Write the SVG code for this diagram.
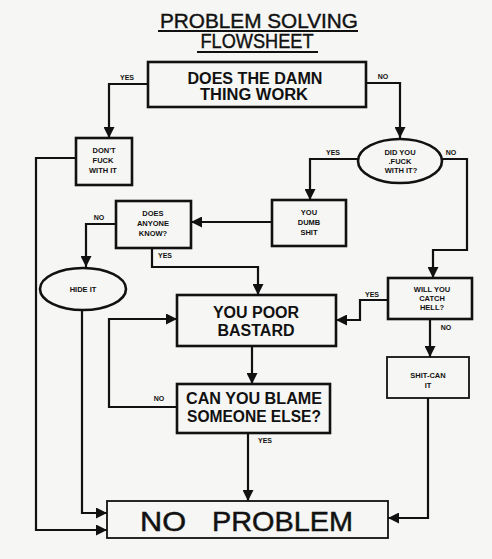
<svg xmlns="http://www.w3.org/2000/svg" width="492" height="559" viewBox="0 0 492 559">
<defs>
<style>
.bx{fill:none;stroke:#111;stroke-width:2.6}
.thin{fill:none;stroke:#111;stroke-width:1.8}
.ln{fill:none;stroke:#111;stroke-width:2.2}
.big{font-family:"Liberation Sans",Arial,sans-serif;font-size:16px;font-weight:bold;fill:#111;text-anchor:middle}
.sm{font-family:"Liberation Sans",Arial,sans-serif;font-size:7.5px;font-weight:bold;fill:#111;text-anchor:middle}
.lb{font-family:"Liberation Sans",Arial,sans-serif;font-size:7px;font-weight:bold;fill:#111;text-anchor:middle}
.tt{font-family:"Liberation Sans",Arial,sans-serif;font-size:20px;fill:#111;stroke:#111;stroke-width:0.4;text-anchor:middle}
.np{font-family:"Liberation Sans",Arial,sans-serif;font-size:28px;fill:#111;stroke:#111;stroke-width:0.5;text-anchor:start}
</style>
<marker id="ah" viewBox="0 0 10 10" refX="10" refY="5" markerWidth="5" markerHeight="5" orient="auto" markerUnits="strokeWidth">
<path d="M0,0 L10,5 L0,10 z" fill="#111"/>
</marker>
</defs>
<rect width="492" height="559" fill="#f6f6f4"/>
<g id="title">
<text class="tt" x="259" y="28" textLength="198" lengthAdjust="spacingAndGlyphs">PROBLEM SOLVING</text>
<line x1="158" y1="31" x2="358" y2="31" stroke="#111" stroke-width="2"/>
<text class="tt" x="257" y="48" textLength="113" lengthAdjust="spacingAndGlyphs">FLOWSHEET</text>
<line x1="197" y1="52" x2="318" y2="52" stroke="#111" stroke-width="2"/>
</g>
<g id="connectors">
<polyline class="ln" points="148,84 109,84 109,138" marker-end="url(#ah)"/>
<polyline class="ln" points="366,83 400,83 400,138" marker-end="url(#ah)"/>
<polyline class="ln" points="76,158 36,158 36,530 107,530" marker-end="url(#ah)"/>
<polyline class="ln" points="358,159 310,159 310,200" marker-end="url(#ah)"/>
<polyline class="ln" points="442,159 467,159 467,250 433,250 433,278" marker-end="url(#ah)"/>
<polyline class="ln" points="272,222 191,222" marker-end="url(#ah)"/>
<polyline class="ln" points="116,224 86,224 86,267" marker-end="url(#ah)"/>
<polyline class="ln" points="152,248 152,267 258,267 258,295" marker-end="url(#ah)"/>
<polyline class="ln" points="82,310 82,513 107,513" marker-end="url(#ah)"/>
<polyline class="ln" points="252,346 252,384" marker-end="url(#ah)"/>
<polyline class="ln" points="177,407 109,407 109,319 177,319" marker-end="url(#ah)"/>
<polyline class="ln" points="248,433 248,501" marker-end="url(#ah)"/>
<polyline class="ln" points="388,300 360,300 360,320 336,320" marker-end="url(#ah)"/>
<polyline class="ln" points="430,319 430,357" marker-end="url(#ah)"/>
<polyline class="ln" points="428,398 428,518 388,518" marker-end="url(#ah)"/>
<text class="lb" x="127" y="80">YES</text>
<text class="lb" x="383" y="79">NO</text>
<text class="lb" x="333" y="155">YES</text>
<text class="lb" x="451" y="155">NO</text>
<text class="lb" x="99" y="220">NO</text>
<text class="lb" x="165" y="258">YES</text>
<text class="lb" x="372" y="297">YES</text>
<text class="lb" x="446" y="330">NO</text>
<text class="lb" x="159" y="401">NO</text>
<text class="lb" x="265" y="443">YES</text>
</g>
<g id="n-works">
<rect class="bx" x="148" y="62" width="218" height="45"/>
<text class="big" x="255" y="84" textLength="135" lengthAdjust="spacingAndGlyphs">DOES THE DAMN</text>
<text class="big" x="254" y="100" textLength="108" lengthAdjust="spacingAndGlyphs">THING WORK</text>
</g>
<g id="n-dont">
<rect class="bx" x="76" y="138" width="56" height="47"/>
<text class="sm" x="104" y="153">DON'T</text>
<text class="sm" x="103" y="163">FUCK</text>
<text class="sm" x="103" y="173">WITH IT</text>
</g>
<g id="n-didyou">
<ellipse class="bx" cx="400" cy="161" rx="42" ry="22"/>
<text class="sm" x="400" y="155">DID YOU</text>
<text class="sm" x="400" y="164">.FUCK</text>
<text class="sm" x="401" y="173">WITH IT?</text>
</g>
<g id="n-dumb">
<rect class="bx" x="272" y="200" width="74" height="46"/>
<text class="sm" x="309" y="215">YOU</text>
<text class="sm" x="309" y="225">DUMB</text>
<text class="sm" x="309" y="235">SHIT</text>
</g>
<g id="n-anyone">
<rect class="bx" x="116" y="201" width="75" height="47"/>
<text class="sm" x="153" y="216">DOES</text>
<text class="sm" x="153" y="226">ANYONE</text>
<text class="sm" x="153" y="236">KNOW?</text>
</g>
<g id="n-hide">
<ellipse class="bx" cx="83" cy="289" rx="43" ry="21"/>
<text class="sm" x="83" y="292">HIDE IT</text>
</g>
<g id="n-poor">
<rect class="bx" x="177" y="295" width="159" height="51"/>
<text class="big" x="256" y="318">YOU POOR</text>
<text class="big" x="256" y="336">BASTARD</text>
</g>
<g id="n-hell">
<rect class="bx" x="388" y="278" width="84" height="41"/>
<text class="sm" x="432" y="292">WILL YOU</text>
<text class="sm" x="432" y="301">CATCH</text>
<text class="sm" x="432" y="310">HELL?</text>
</g>
<g id="n-shitcan">
<rect class="thin" x="387" y="357" width="82" height="41"/>
<text class="sm" x="428" y="378">SHIT-CAN</text>
<text class="sm" x="428" y="388">IT</text>
</g>
<g id="n-blame">
<rect class="bx" x="177" y="384" width="153" height="49"/>
<text class="big" x="254" y="404" textLength="136" lengthAdjust="spacingAndGlyphs">CAN YOU BLAME</text>
<text class="big" x="254" y="422" textLength="134" lengthAdjust="spacingAndGlyphs">SOMEONE ELSE?</text>
</g>
<g id="n-noproblem">
<rect class="thin" x="107" y="501" width="281" height="37"/>
<text class="np" x="140" y="531" textLength="46" lengthAdjust="spacingAndGlyphs">NO</text>
<text class="np" x="212" y="531" textLength="141" lengthAdjust="spacingAndGlyphs">PROBLEM</text>
</g>
</svg>
